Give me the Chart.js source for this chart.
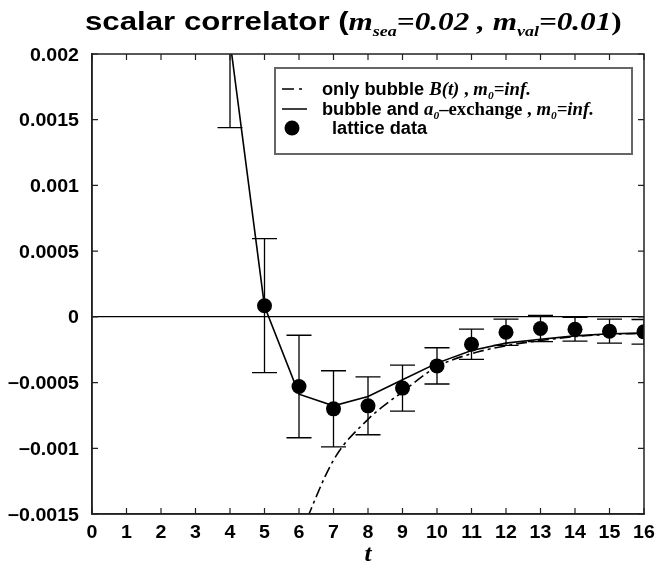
<!DOCTYPE html>
<html><head><meta charset="utf-8">
<script src="https://cdn.jsdelivr.net/npm/chart.js@4/dist/chart.umd.min.js"></script>
<style>html,body{margin:0;padding:0;background:#fff}#wrap{width:657px;height:563px;position:relative}</style>
</head><body><div id="wrap"><canvas id="c" width="657" height="563"></canvas></div>
<script>
// ---- data ----
const tValues = [4,5,6,7,8,9,10,11,12,13,14,15,16];
const latticeValues = [0.0021, 0.000085, -0.00053, -0.0007, -0.000677, -0.000542, -0.000373, -0.000208, -0.000117, -0.000089, -0.000094, -0.000109, -0.000114];
const latticeErrors = [0.00066, 0.00051, 0.00039, 0.00029, 0.00022, 0.000175, 0.000138, 0.000115, 0.0001, 0.0001, 0.000091, 0.000091, 0.000094];
const fullTimes = [4,5,6,7,8,9,10,11,12,13,14,15,16];
const fullValues = [0.0021, 0.00008, -0.000588, -0.000677, -0.000606, -0.000479, -0.000352, -0.000256, -0.0002, -0.00017, -0.000145, -0.000129, -0.000124];
const bubbleTimes = [6,7,8,9,10,11,12,13,14,15,16];
const bubbleValues = [-0.00168, -0.00109, -0.00078, -0.00057, -0.00038, -0.00028, -0.00022, -0.00018, -0.00015, -0.000133, -0.000125];
const xTickRange = {min: 0, max: 16, step: 1};
const yTickRange = {min: -0.0015, max: 0.002, step: 0.0005};

const SANS = "'Liberation Sans', Arial, sans-serif";
const SERIF = "'Liberation Serif', 'Times New Roman', serif";

function runsWidth(ctx, runs, sx){ let w=0; runs.forEach(r=>{ctx.font=r.font; w+=ctx.measureText(r.text).width;}); return w*sx; }
function drawRuns(ctx, runs, x, y, align, sx){
  sx = sx || 1;
  ctx.save();
  const w = runsWidth(ctx, runs, sx);
  const start = align==='right' ? x-w : align==='center' ? x-w/2 : x;
  ctx.translate(start, y); ctx.scale(sx,1);
  ctx.textBaseline='alphabetic'; ctx.textAlign='left'; ctx.fillStyle='#000';
  let cx=0;
  runs.forEach(r=>{ ctx.font=r.font; ctx.fillText(r.text, cx, r.dy||0); cx+=ctx.measureText(r.text).width; });
  ctx.restore();
}
function fmt(v){ const r=Math.round(v*1e5)/1e5; if(r===0) return '0'; return (r<0?'\u2212':'')+String(Math.abs(r)); }

const tickFont = "bold 17.5px " + SANS;
const TICK_SX = 1.12;

const decorPlugin = {
  id:'decor',
  beforeDatasetsDraw(chart){
    const ctx=chart.ctx, xs=chart.scales.x, ys=chart.scales.y, a=chart.chartArea;
    ctx.save();
    ctx.beginPath(); ctx.rect(a.left, a.top, a.right-a.left, a.bottom-a.top); ctx.clip();
    ctx.strokeStyle='#000'; ctx.lineWidth=1.3;
    const cap=12.5;
    tValues.forEach((t,i)=>{
      const px=xs.getPixelForValue(t);
      const hi=ys.getPixelForValue(latticeValues[i]+latticeErrors[i]);
      const lo=ys.getPixelForValue(latticeValues[i]-latticeErrors[i]);
      ctx.beginPath();
      ctx.moveTo(px,hi); ctx.lineTo(px,lo);
      ctx.moveTo(px-cap,hi); ctx.lineTo(px+cap,hi);
      ctx.moveTo(px-cap,lo); ctx.lineTo(px+cap,lo);
      ctx.stroke();
    });
    ctx.restore();
  },
  afterDraw(chart){
    const ctx=chart.ctx, xs=chart.scales.x, ys=chart.scales.y, a=chart.chartArea;
    ctx.save();
    ctx.strokeStyle='#222'; ctx.lineWidth=1.5;
    ctx.strokeRect(a.left, a.top, a.right-a.left, a.bottom-a.top);
    ctx.lineWidth=1.2; ctx.beginPath();
    xs.ticks.forEach(t=>{ const px=xs.getPixelForValue(t.value);
      ctx.moveTo(px,a.bottom); ctx.lineTo(px,a.bottom-6);
      ctx.moveTo(px,a.top); ctx.lineTo(px,a.top+6); });
    ys.ticks.forEach(t=>{ const py=ys.getPixelForValue(t.value);
      ctx.moveTo(a.left,py); ctx.lineTo(a.left+6,py);
      ctx.moveTo(a.right,py); ctx.lineTo(a.right-6,py); });
    ctx.stroke();
    ctx.restore();
    ys.ticks.forEach(t=>{ const py=ys.getPixelForValue(t.value);
      drawRuns(ctx,[{text:fmt(t.value),font:tickFont}], a.left-13, py+6.5, 'right', TICK_SX); });
    xs.ticks.forEach(t=>{ const px=xs.getPixelForValue(t.value);
      drawRuns(ctx,[{text:String(t.value),font:tickFont}], px, a.bottom+24, 'center', TICK_SX); });
    drawRuns(ctx,[{text:'t',font:"bold italic 23px "+SERIF}], xs.getPixelForValue(8), 561, 'center', 1.1);
    // title
    const tb="bold 26px "+SANS, ti="bold italic 26px "+SERIF, ts="bold italic 15px "+SERIF, tu="bold 26px "+SERIF;
    drawRuns(ctx,[
      {text:'scalar correlator (',font:tb},
      {text:'m',font:ti},{text:'sea',font:ts,dy:6},
      {text:'=0.02 , ',font:ti},
      {text:'m',font:ti},{text:'val',font:ts,dy:6},
      {text:'=0.01',font:ti},{text:')',font:tu}
    ], 85, 30, 'left', 1.2);
    // legend
    ctx.save();
    ctx.strokeStyle='#666'; ctx.lineWidth=2;
    ctx.strokeRect(275,68,357,86);
    ctx.strokeStyle='#000'; ctx.lineWidth=1.5;
    ctx.beginPath(); ctx.setLineDash([12,5,3,5]); ctx.moveTo(282,89); ctx.lineTo(307,89); ctx.stroke();
    ctx.setLineDash([]);
    ctx.beginPath(); ctx.moveTo(282,109); ctx.lineTo(307,109); ctx.stroke();
    ctx.fillStyle='#000'; ctx.beginPath(); ctx.arc(292,128,7.5,0,Math.PI*2); ctx.fill();
    ctx.restore();
    const LSX=1.04;
    const lb="bold 17.5px "+SANS, li="bold italic 18px "+SERIF, lsub="bold italic 11px "+SERIF, lu="bold 18px "+SERIF;
    drawRuns(ctx,[{text:'only bubble ',font:lb},{text:'B(t)',font:li},{text:' , ',font:lu},
      {text:'m',font:li},{text:'0',font:lsub,dy:4},{text:'=inf.',font:li}], 322, 95, 'left', LSX);
    drawRuns(ctx,[{text:'bubble and ',font:lb},{text:'a',font:li},{text:'0',font:lsub,dy:4},
      {text:'\u2013exchange , ',font:lu},{text:'m',font:li},{text:'0',font:lsub,dy:4},{text:'=inf.',font:li}], 322, 115, 'left', LSX);
    drawRuns(ctx,[{text:'lattice data',font:lb}], 332, 134, 'left', LSX);
  }
};

const toXY = (xs, ys) => xs.map((x,i)=>({x, y: ys[i]}));

new Chart(document.getElementById('c'), {
  type:'scatter',
  data:{ datasets:[
    { label:'lattice data', data: toXY(tValues, latticeValues), pointRadius:7.5, pointHoverRadius:7.5,
      backgroundColor:'#000', borderWidth:0, showLine:false },
    { label:'bubble and a0-exchange', data: toXY(fullTimes, fullValues), showLine:true, pointRadius:0,
      borderColor:'#000', borderWidth:1.6, tension:0 },
    { label:'only bubble B(t)', data: toXY(bubbleTimes, bubbleValues), showLine:true, pointRadius:0,
      borderColor:'#000', borderWidth:1.6, borderDash:[11,4,3,4], cubicInterpolationMode:'monotone' }
  ]},
  options:{
    responsive:false, animation:false, devicePixelRatio:1,
    layout:{ padding:{top:54, right:13, left:0, bottom:0} },
    plugins:{ legend:{display:false}, title:{display:false}, tooltip:{enabled:false} },
    events:[],
    scales:{
      x:{ type:'linear', min:xTickRange.min, max:xTickRange.max,
        ticks:{ display:false, stepSize:xTickRange.step },
        grid:{ display:false }, border:{ display:true, color:'#222', width:1.5 },
        afterFit(s){ s.height = 49; } },
      y:{ type:'linear', min:yTickRange.min, max:yTickRange.max,
        ticks:{ display:false, stepSize:yTickRange.step },
        grid:{ display:true, drawTicks:false, lineWidth:1.2,
          color:(c)=> (c.tick && Math.abs(c.tick.value)<1e-12) ? '#000' : 'rgba(0,0,0,0)' },
        border:{ display:true, color:'#222', width:1.5 },
        afterFit(s){ s.width = 92; } }
    }
  },
  plugins:[decorPlugin]
});
</script>
</body></html>
